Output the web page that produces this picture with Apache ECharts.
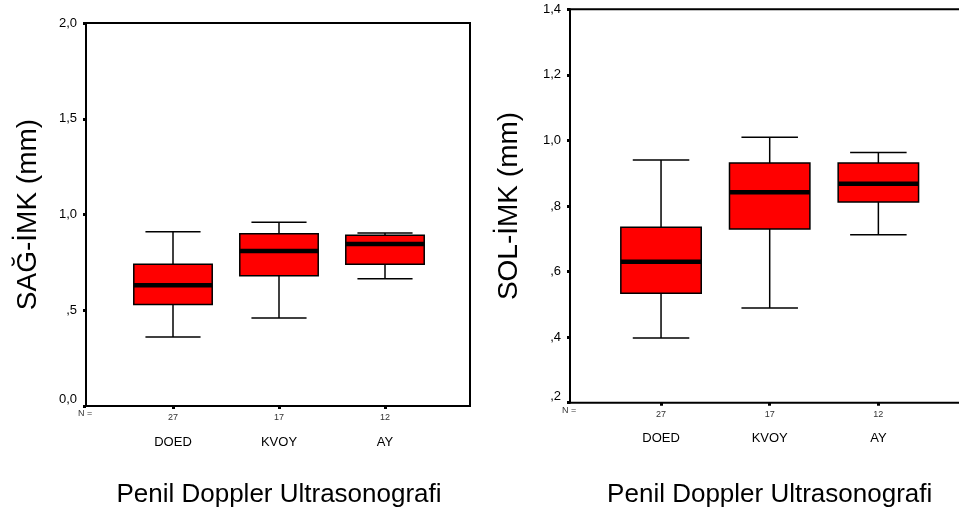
<!DOCTYPE html>
<html>
<head>
<meta charset="utf-8">
<script src="https://cdn.jsdelivr.net/npm/echarts@6/dist/echarts.min.js"></script>
<style>html,body{margin:0;padding:0;background:#fff;}#c{width:959px;height:514px;}</style>
</head>
<body>
<div id="c"></div>
<script>
// ---- data ----
const categories = ['DOED', 'KVOY', 'AY'];
const groupN = ['27', '17', '12'];
// [min, Q1, median, Q3, max]
const sagDOED = [0.36, 0.53, 0.63, 0.74, 0.91];
const sagKVOY = [0.46, 0.68, 0.81, 0.90, 0.96];
const sagAY   = [0.665, 0.74, 0.846, 0.892, 0.903];
const solDOED = [0.397, 0.534, 0.630, 0.735, 0.940];
const solKVOY = [0.489, 0.730, 0.842, 0.931, 1.010];
const solAY   = [0.712, 0.812, 0.868, 0.931, 0.963];
const sagTickValues = [0, 0.5, 1.0, 1.5, 2.0];
const sagTickLabels = ['0,0', ',5', '1,0', '1,5', '2,0'];
const solTickValues = [0.2, 0.4, 0.6, 0.8, 1.0, 1.2, 1.4];
const solTickLabels = [',2', ',4', ',6', ',8', '1,0', '1,2', '1,4'];
const sagTitle = 'SAĞ-İMK (mm)';
const solTitle = 'SOL-İMK (mm)';
const xTitle = 'Penil Doppler Ultrasonografi';

const FONT = '"Liberation Sans", Arial, sans-serif';

function toRows(list) {
  return list.map((d, i) => [i].concat(d));
}
function tickFmt(values, labels) {
  return function (v) {
    for (let i = 0; i < values.length; i++) {
      if (Math.abs(values[i] - v) < 1e-6) return labels[i];
    }
    return '';
  };
}
function renderBox(params, api) {
  const x = api.value(0);
  const pMin = api.coord([x, api.value(1)]);
  const pQ1 = api.coord([x, api.value(2)]);
  const pMed = api.coord([x, api.value(3)]);
  const pQ3 = api.coord([x, api.value(4)]);
  const pMax = api.coord([x, api.value(5)]);
  const band = api.size([1, 0])[0];
  const bw = band * 0.74, cw = band * 0.52;
  const cx = pMed[0];
  const ls = { stroke: '#000', lineWidth: 1.5 };
  return {
    type: 'group',
    children: [
      { type: 'line', shape: { x1: cx, y1: pMax[1], x2: cx, y2: pQ3[1] }, style: ls },
      { type: 'line', shape: { x1: cx, y1: pQ1[1], x2: cx, y2: pMin[1] }, style: ls },
      { type: 'line', shape: { x1: cx - cw / 2, y1: pMax[1], x2: cx + cw / 2, y2: pMax[1] }, style: ls },
      { type: 'line', shape: { x1: cx - cw / 2, y1: pMin[1], x2: cx + cw / 2, y2: pMin[1] }, style: ls },
      { type: 'rect', shape: { x: cx - bw / 2, y: pQ3[1], width: bw, height: pQ1[1] - pQ3[1] },
        style: { fill: '#ff0000', stroke: '#000', lineWidth: 1.5 } },
      { type: 'line', shape: { x1: cx - bw / 2, y1: pMed[1], x2: cx + bw / 2, y2: pMed[1] },
        style: { stroke: '#000', lineWidth: 4.5 } }
    ]
  };
}

const chart = echarts.init(document.getElementById('c'), null, { renderer: 'canvas' });

function frameY(gridIndex, min, max, interval, values, labels, name, gap) {
  return {
    gridIndex: gridIndex, type: 'value', min: min, max: max, interval: interval,
    splitLine: { show: false },
    axisLine: { show: true, lineStyle: { color: '#000', width: 2 } },
    axisTick: { show: true, length: 3, lineStyle: { color: '#000', width: 3 } },
    axisLabel: { color: '#000', fontSize: 13, fontFamily: FONT, margin: 9,
      formatter: tickFmt(values, labels), verticalAlignMinLabel: 'bottom' },
    name: name, nameLocation: 'middle', nameGap: gap, nameRotate: 90,
    nameTextStyle: { color: '#000', fontSize: 28, fontFamily: FONT, verticalAlign: 'middle' }
  };
}
function hiddenY(gridIndex, min, max) {
  return { gridIndex: gridIndex, type: 'value', min: min, max: max, show: false, splitLine: { show: false } };
}
function dataX(gridIndex, gap) {
  return {
    gridIndex: gridIndex, type: 'category', data: categories,
    axisLine: { show: false },
    axisTick: { show: true, alignWithLabel: true, length: 3, lineStyle: { color: '#000', width: 3 } },
    axisLabel: {
      margin: 5, interval: 0,
      formatter: function (v, i) { return '{n|' + groupN[i] + '}\n{c|' + v + '}'; },
      rich: {
        n: { fontSize: 9, color: '#333', fontFamily: FONT, lineHeight: 14 },
        c: { fontSize: 13, color: '#000', fontFamily: FONT, lineHeight: 34 }
      }
    },
    name: xTitle, nameLocation: 'middle', nameGap: gap,
    nameTextStyle: { color: '#000', fontSize: 26, fontFamily: FONT, verticalAlign: 'middle' }
  };
}

const option = {
  backgroundColor: '#fff',
  animation: false,
  grid: [
    { left: 86, top: 23, width: 384, height: 383, show: true, borderColor: '#000', borderWidth: 2, outerBoundsMode: 'none', containLabel: false },
    { left: 120, top: 23, width: 318, height: 383, outerBoundsMode: 'none', containLabel: false },
    { left: 570, top: 9.3, width: 410, height: 393.4, show: true, borderColor: '#000', borderWidth: 2, outerBoundsMode: 'none', containLabel: false },
    { left: 606.7, top: 9.3, width: 326, height: 393.4, outerBoundsMode: 'none', containLabel: false }
  ],
  xAxis: [
    { gridIndex: 0, type: 'value', min: 0, max: 1, show: false, splitLine: { show: false } },
    dataX(1, 89),
    { gridIndex: 2, type: 'value', min: 0, max: 1, show: false, splitLine: { show: false } },
    dataX(3, 92)
  ],
  yAxis: [
    frameY(0, 0, 2, 0.5, sagTickValues, sagTickLabels, sagTitle, 58),
    hiddenY(1, 0, 2),
    frameY(2, 0.2, 1.4, 0.2, solTickValues, solTickLabels, solTitle, 61),
    hiddenY(3, 0.2, 1.4)
  ],
  graphic: [
    { type: 'text', left: 78, top: 409, style: { text: 'N =', fontSize: 9, fill: '#333', fontFamily: FONT } },
    { type: 'text', left: 562, top: 406, style: { text: 'N =', fontSize: 9, fill: '#333', fontFamily: FONT } }
  ],
  series: [
    { type: 'custom', xAxisIndex: 1, yAxisIndex: 1, renderItem: renderBox,
      encode: { x: 0, y: [1, 2, 3, 4, 5] }, data: toRows([sagDOED, sagKVOY, sagAY]) },
    { type: 'custom', xAxisIndex: 3, yAxisIndex: 3, renderItem: renderBox,
      encode: { x: 0, y: [1, 2, 3, 4, 5] }, data: toRows([solDOED, solKVOY, solAY]) }
  ]
};
chart.setOption(option);
</script>
</body>
</html>
